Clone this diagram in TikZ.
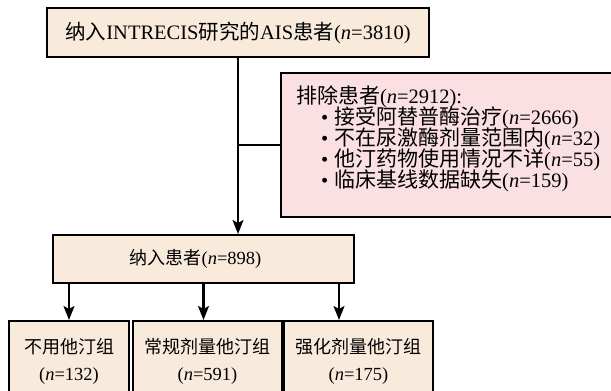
\documentclass[tikz,border=0pt]{standalone}
\usepackage{fontspec}
\setmainfont{Liberation Serif}
\newfontfamily\cjk{Noto Sans CJK SC}
\def\zhsize{18}
\newcommand{\zh}[1]{{\fontsize{\zhsize}{\zhsize}\selectfont\cjk #1}}
\newcommand{\bul}{\hspace*{25pt}\textbullet\hspace{6pt}}
\usetikzlibrary{arrows.meta}
\definecolor{beige}{RGB}{249,235,220}
\definecolor{pinkbox}{RGB}{251,224,227}
\tikzset{
  box/.style={draw=black, line width=2pt, rectangle, inner sep=0pt},
  bigtext/.style={font=\fontsize{20.5}{26}\selectfont\def\zhsize{20.5}},
  smalltext/.style={font=\fontsize{18.5}{27}\selectfont\def\zhsize{18}},
  beigebox/.style={box, fill=beige},
  pinkbox/.style={box, fill=pinkbox},
  conn/.style={line width=2.2pt},
  arr/.style={conn, -{Stealth[length=14pt,width=11pt,inset=3pt]}}
}
\begin{document}
\begin{tikzpicture}[x=1pt,y=-1pt]
\useasboundingbox (0,0) rectangle (611,391);
\clip (0,0) rectangle (611,391);
\node[beigebox, bigtext, minimum width=382pt, minimum height=49pt] (top) at (238,32.5)
  {\zh{纳入}INTRECIS\zh{研究的}AIS\zh{患者}(\textit{n}=3810)};
\node[pinkbox, bigtext, minimum width=340pt, minimum height=144pt, inner xsep=15pt, anchor=west] (excl) at (280,145)
  {\raisebox{6pt}[\height][\depth]{\parbox{310pt}{\def\zhsize{21}\lineskiplimit=-100pt\baselineskip=21pt
   \zh{排除患者}(\textit{n}=2912):\\
   \bul\zh{接受阿替普酶治疗}(\textit{n}=2666)\\
   \bul\zh{不在尿激酶剂量范围内}(\textit{n}=32)\\
   \bul\zh{他汀药物使用情况不详}(\textit{n}=55)\\
   \bul\zh{临床基线数据缺失}(\textit{n}=159)}}};
\node[beigebox, smalltext, minimum width=301pt, minimum height=48pt] (mid) at (203.5,259)
  {\hspace*{-16pt}\zh{纳入患者}(\textit{n}=898)};
\node[beigebox, smalltext, minimum width=120pt, minimum height=80pt, align=center, anchor=north] (b1) at (69,320)
  {\zh{不用他汀组}\\(\textit{n}=132)};
\node[beigebox, smalltext, minimum width=149pt, minimum height=80pt, align=center, anchor=north] (b2) at (207.5,320)
  {\zh{常规剂量他汀组}\\(\textit{n}=591)};
\node[beigebox, smalltext, minimum width=149pt, minimum height=80pt, align=center, anchor=north] (b3) at (358.5,320)
  {\zh{强化剂量他汀组}\\(\textit{n}=175)};
\draw[arr] (top.south) -- (top.south |- mid.north);
\draw[conn] (top.south |- excl.west) -- (excl.west);
\draw[arr] (mid.south -| b1.north) -- (b1.north);
\draw[arr] (mid.south) -- (mid.south |- b2.north);
\draw[arr] ([xshift=135.5pt]mid.south) -- ([xshift=135.5pt]mid.south |- b3.north);
\end{tikzpicture}
\end{document}
